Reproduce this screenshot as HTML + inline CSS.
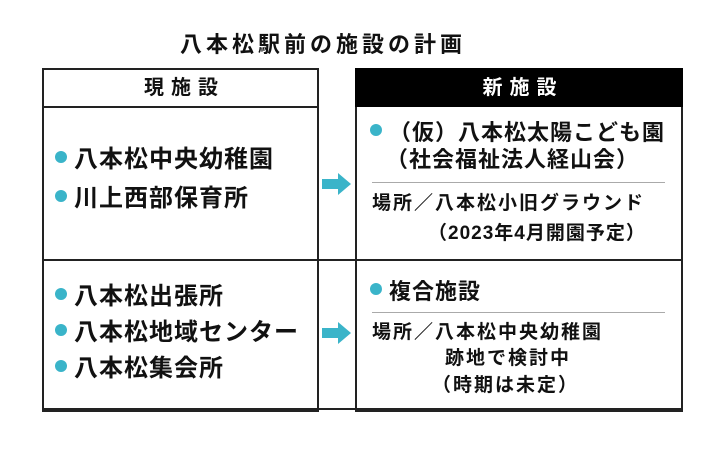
<!DOCTYPE html>
<html><head><meta charset="utf-8"><style>
body{margin:0;width:720px;height:449px;background:#fff;position:relative;overflow:hidden;font-family:"Liberation Sans","Noto Sans CJK JP",sans-serif;color:#111;font-weight:bold}
.a{position:absolute;white-space:nowrap;line-height:1}
.l{position:absolute;background:#222}
.d{display:inline-block;width:12px;height:12px;border-radius:50%;background:#3ab4c9;margin-right:7px;vertical-align:4px}
.big{font-size:24px;letter-spacing:1px}
.med{font-size:22px;letter-spacing:1px}
.sm{font-size:19px;letter-spacing:2px}
</style></head><body>
<div class="a" style="left:180px;top:34px;font-size:22px;letter-spacing:4px">八本松駅前の施設の計画</div>
<div style="position:absolute;left:42px;top:68px;width:273px;height:340px;border:2px solid #222"></div>
<div class="l" style="left:42px;top:106px;width:275px;height:2px"></div>
<div class="l" style="left:42px;top:259px;width:640px;height:2px"></div>
<div class="l" style="left:42px;top:408px;width:640px;height:2px"></div>
<div style="position:absolute;left:355px;top:68px;width:324px;height:340px;border:2px solid #222"></div>
<div class="l" style="left:355px;top:68px;width:328px;height:39px;background:#000"></div>
<div class="a" style="left:46px;width:277px;text-align:center;top:78px;font-size:20px;letter-spacing:7px">現施設</div>
<div class="a" style="left:359px;width:328px;text-align:center;top:78px;font-size:20px;letter-spacing:7px;color:#fff">新施設</div>
<svg style="position:absolute;left:320px;top:172px" width="32" height="24"><path d="M2 7h16V1l13 11-13 11v-6H2z" fill="#3ab4c9"/></svg>
<svg style="position:absolute;left:320px;top:321px" width="32" height="24"><path d="M2 7h16V1l13 11-13 11v-6H2z" fill="#3ab4c9"/></svg>
<div class="a big" style="left:55px;top:148px"><span class="d"></span>八本松中央幼稚園</div>
<div class="a big" style="left:55px;top:187px"><span class="d"></span>川上西部保育所</div>
<div class="a big" style="left:55px;top:285px"><span class="d"></span>八本松出張所</div>
<div class="a big" style="left:55px;top:321px"><span class="d"></span>八本松地域センター</div>
<div class="a big" style="left:55px;top:357px"><span class="d"></span>八本松集会所</div>
<div class="a med" style="left:370px;top:122px"><span class="d"></span>（仮）八本松太陽こども園</div>
<div class="a med" style="left:386px;top:149px">（社会福祉法人経山会）</div>
<div class="l" style="left:372px;top:182px;width:293px;height:1px;background:#aaa"></div>
<div class="a sm" style="left:372px;top:194px">場所／八本松小旧グラウンド</div>
<div class="a sm" style="left:428px;top:224px;letter-spacing:1px">（2023年4月開園予定）</div>
<div class="a med" style="left:370px;top:281px"><span class="d"></span>複合施設</div>
<div class="l" style="left:372px;top:312px;width:293px;height:1px;background:#aaa"></div>
<div class="a sm" style="left:372px;top:323px">場所／八本松中央幼稚園</div>
<div class="a sm" style="left:445px;top:349px">跡地で検討中</div>
<div class="a sm" style="left:432px;top:376px">（時期は未定）</div>
</body></html>
